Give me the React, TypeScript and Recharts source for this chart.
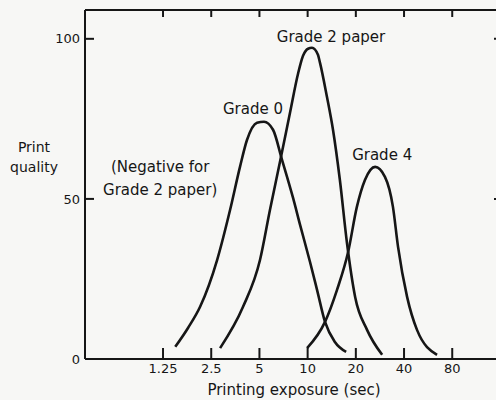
import { Line, LineChart, ReferenceDot, XAxis, YAxis } from "recharts";

const ink = "#161616";
const paper = "#f7f7f5";
const font = "'DejaVu Sans', sans-serif";

// exposure axis (log, doubling steps) and quality axis
const exposureTicks = [1.25, 2.5, 5, 10, 20, 40, 80];
const exposureTickLabels = ["1.25", "2.5", "5", "10", "20", "40", "80"];
const qualityTicks = [0, 50, 100];

// curves: exposure (sec) -> print quality
const grade0Exposure = [1.49, 1.79, 2.13, 2.72, 3.28, 3.78, 4.18, 4.83, 5.34, 6.08, 6.92, 8.11, 8.97, 10.35, 11.45, 12.84, 14.8, 17.4];
const grade0Quality = [3.8, 9.7, 16.3, 30.9, 46.6, 60, 68.4, 73.8, 74.1, 71.6, 62.2, 50.3, 41.9, 30.3, 21.6, 11.6, 5.3, 2.2];

const grade2Exposure = [2.84, 3.95, 5.04, 5.82, 6.72, 7.76, 8.71, 9.36, 10.06, 10.65, 11.6, 11.95, 13.2, 14.4, 15.9, 17.6, 19.8, 23.5, 29.2];
const grade2Quality = [3.4, 16.3, 30.9, 46.6, 61.6, 76.9, 89.1, 94.7, 96.9, 97.2, 95, 92.5, 81.9, 71.6, 55.9, 36.3, 19.4, 9.1, 1.3];

const grade4Exposure = [9.92, 12.84, 15.26, 17.9, 20.3, 22.8, 26.4, 30.4, 34.1, 36.7, 41.8, 48.2, 64.3];
const grade4Quality = [3.4, 11.6, 21.6, 33.4, 47.5, 55.9, 60, 56.9, 47.5, 35, 19.4, 9.1, 1.3];

const toPoints = (ts: number[], qs: number[]) => ts.map((t, i) => ({ t, q: qs[i] }));

const grade0 = toPoints(grade0Exposure, grade0Quality);
const grade2 = toPoints(grade2Exposure, grade2Quality);
const grade4 = toPoints(grade4Exposure, grade4Quality);

const xDomain = [0.407, 166];
const yDomain = [0, 109];
const frameLine = { stroke: ink, strokeWidth: 2 };

// tick lines point inward (negative tickSize); these only draw the labels
const BottomTick = ({ x, y, payload }: any) => (
  <text x={x} y={y + 25} textAnchor="middle" fontSize={13} fill={ink} fontFamily={font}>
    {exposureTickLabels[exposureTicks.indexOf(payload.value)]}
  </text>
);

const LeftTick = ({ x, y, payload }: any) => (
  <text x={x - 14} y={y} dy="0.36em" textAnchor="end" fontSize={13} fill={ink} fontFamily={font}>
    {payload.value}
  </text>
);

const NoLabel = () => <g />;

const Annotation = ({ viewBox, lines, size = 15 }: any) => (
  <text x={viewBox.x} y={viewBox.y} textAnchor="middle" fontSize={size} fill={ink} fontFamily={font}>
    {lines.map((l: string, i: number) => (
      <tspan key={i} x={viewBox.x} dy={i === 0 ? 0 : 23}>
        {l}
      </tspan>
    ))}
  </text>
);

const YTitle = ({ viewBox }: any) => (
  <text x={viewBox.x + 34} y={viewBox.y + 142} textAnchor="middle" fontSize={14} fill={ink} fontFamily={font}>
    <tspan x={viewBox.x + 34}>Print</tspan>
    <tspan x={viewBox.x + 34} dy={20}>quality</tspan>
  </text>
);

const XTitle = ({ viewBox }: any) => (
  <text x={viewBox.x + viewBox.width / 2} y={viewBox.y + 36} textAnchor="middle" fontSize={15} fill={ink} fontFamily={font}>
    Printing exposure  (sec)
  </text>
);

export default function App() {
  return (
    <div style={{ position: "fixed", left: 0, top: 0, width: 496, height: 400, overflow: "hidden", background: paper }}>
      <LineChart width={508} height={400} margin={{ top: 0, right: 0, bottom: 0, left: 0 }}>
        <XAxis
          dataKey="t"
          type="number"
          scale="log"
          domain={xDomain}
          allowDataOverflow
          ticks={exposureTicks}
          interval={0}
          height={41}
          tickSize={-11}
          tickMargin={0}
          tickLine={frameLine}
          axisLine={frameLine}
          tick={(p: any) => <BottomTick {...p} />}
          label={<XTitle />}
        />
        {/* frame top and right, same scales as the main axes */}
        <XAxis
          xAxisId="top"
          orientation="top"
          dataKey="t"
          type="number"
          scale="log"
          domain={xDomain}
          allowDataOverflow
          ticks={exposureTicks}
          interval={0}
          height={10}
          tickSize={-7}
          tickMargin={0}
          tickLine={frameLine}
          axisLine={frameLine}
          tick={NoLabel}
        />
        <YAxis
          type="number"
          domain={yDomain}
          allowDataOverflow
          ticks={qualityTicks}
          interval={0}
          width={85}
          tickSize={-9}
          tickMargin={0}
          tickLine={frameLine}
          axisLine={frameLine}
          tick={(p: any) => <LeftTick {...p} />}
          label={<YTitle />}
        />
        <YAxis
          yAxisId="right"
          orientation="right"
          type="number"
          domain={yDomain}
          allowDataOverflow
          ticks={qualityTicks}
          interval={0}
          width={5}
          tickSize={-9}
          tickMargin={0}
          tickLine={frameLine}
          axisLine={frameLine}
          tick={NoLabel}
        />

        <Line data={grade0} dataKey="q" type="monotone" stroke={ink} strokeWidth={2.6} dot={false} activeDot={false} isAnimationActive={false} />
        <Line data={grade2} dataKey="q" type="monotone" stroke={ink} strokeWidth={2.6} dot={false} activeDot={false} isAnimationActive={false} />
        <Line data={grade4} xAxisId="top" yAxisId="right" dataKey="q" type="monotone" stroke={ink} strokeWidth={2.6} dot={false} activeDot={false} isAnimationActive={false} />

        <ReferenceDot x={14.0} y={99.1} r={0} stroke="none" fill="none" label={<Annotation lines={["Grade 2 paper"]} />} />
        <ReferenceDot x={4.56} y={76.6} r={0} stroke="none" fill="none" label={<Annotation lines={["Grade 0"]} />} />
        <ReferenceDot x={29.2} y={62.2} r={0} stroke="none" fill="none" label={<Annotation lines={["Grade 4"]} />} />
        <ReferenceDot x={1.2} y={58.4} r={0} stroke="none" fill="none" label={<Annotation lines={["(Negative for", "Grade 2 paper)"]} />} />
      </LineChart>
    </div>
  );
}
